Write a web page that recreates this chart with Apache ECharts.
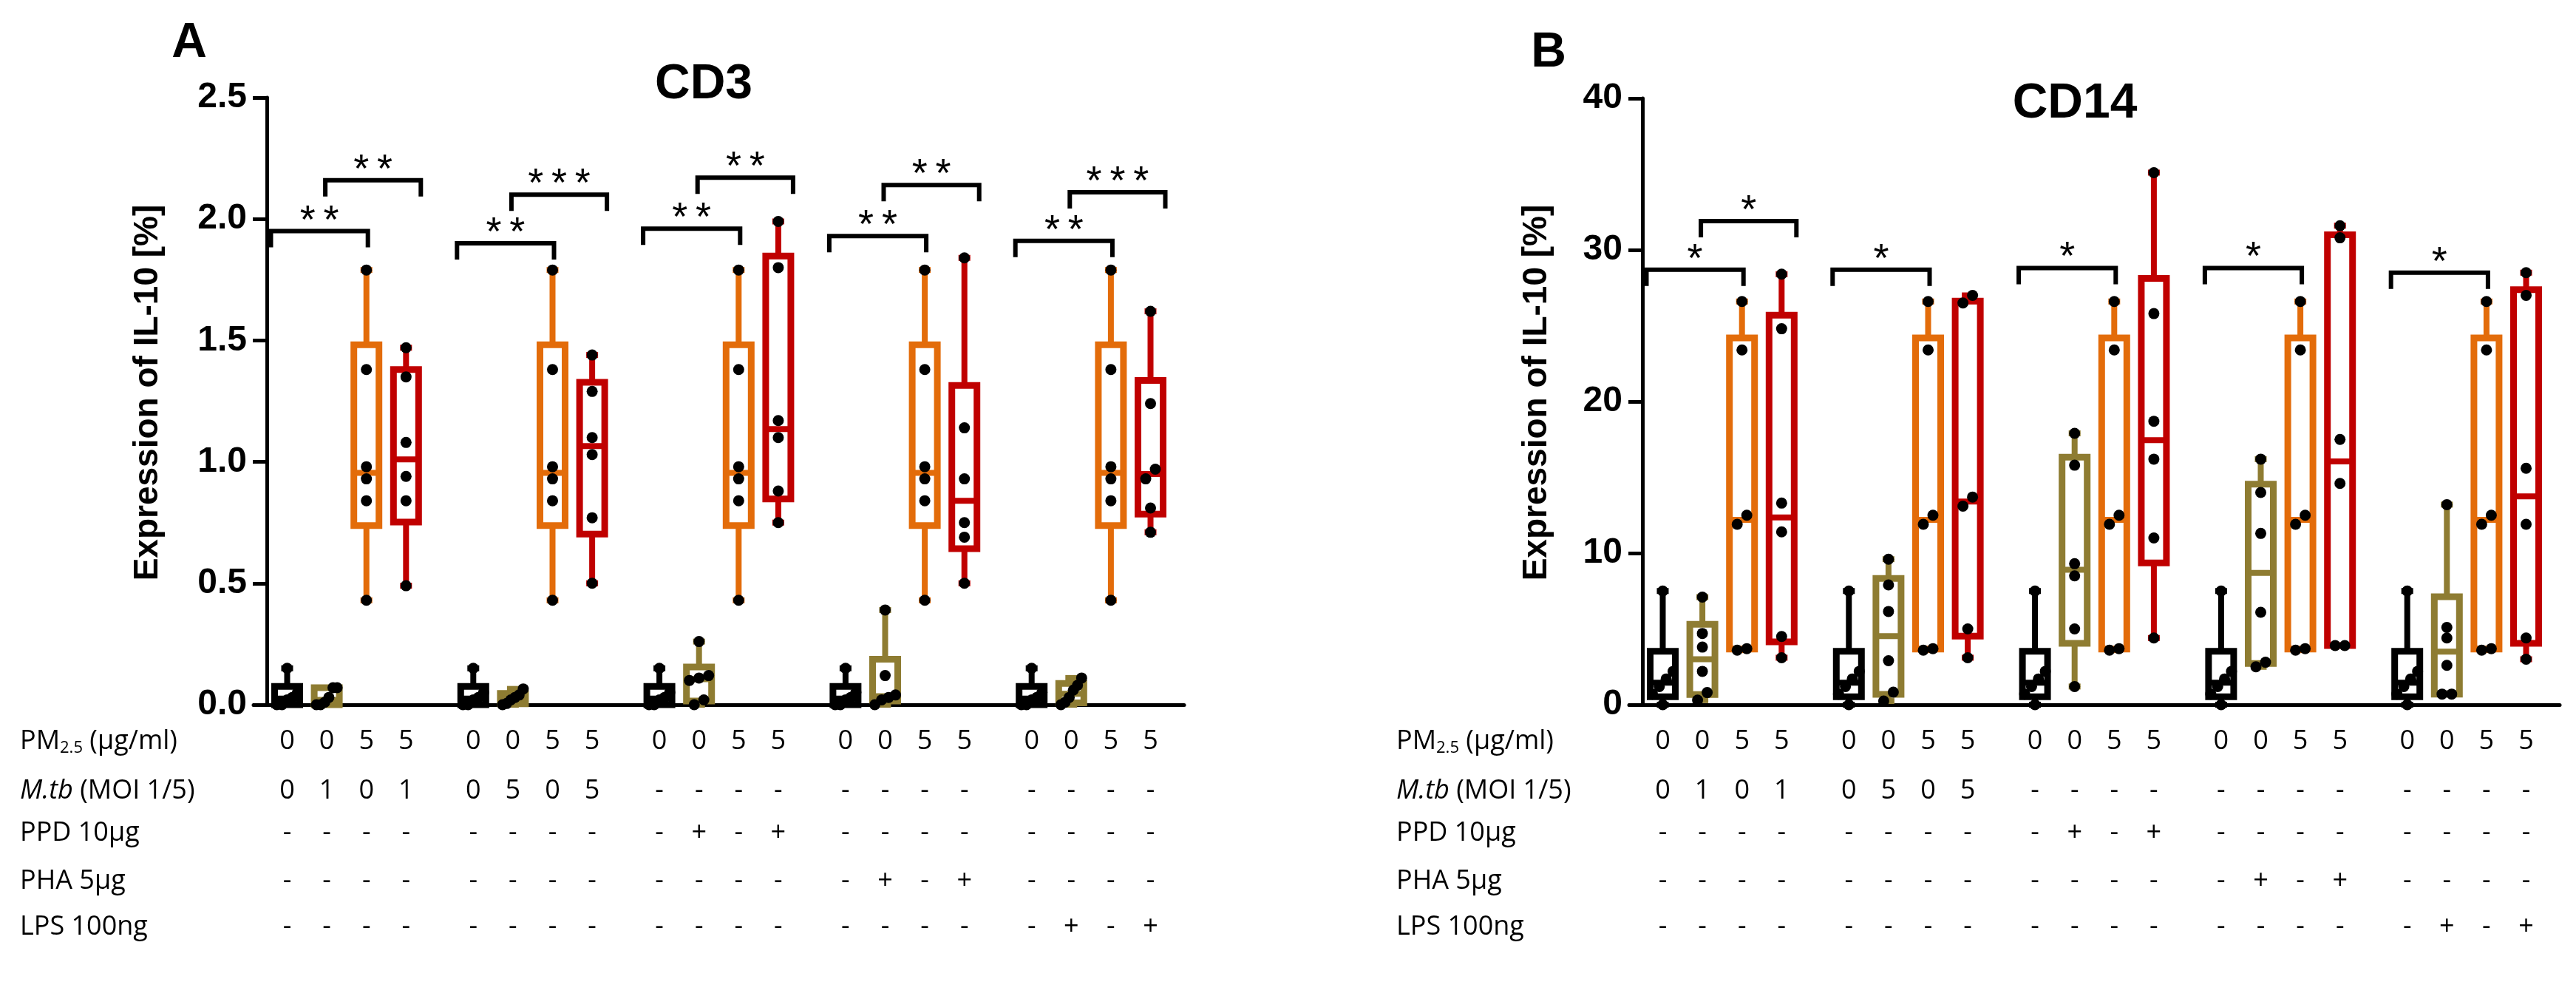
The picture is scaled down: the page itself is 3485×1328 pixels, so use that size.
<!DOCTYPE html>
<html><head><meta charset="utf-8">
<script src="https://cdn.jsdelivr.net/npm/echarts@6/dist/echarts.min.js"></script>
<style>html,body{margin:0;padding:0;background:#fff;}#c{width:3485px;height:1328px;}</style>
</head><body><div id="c"></div>
<script>
// ---------------- data ----------------
const groupNames = ['G1', 'G2', 'G3', 'G4', 'G5'];
// CD3 panel, IL-10 %, six donors per condition
const cd3Control = [0, 0, 0.02, 0.03, 0.05, 0.15];
const cd3PM = [0.43, 0.84, 0.93, 0.98, 1.38, 1.79];
const cd3Stim = [
  [0, 0, 0.01, 0.03, 0.07, 0.07],
  [0, 0.005, 0.02, 0.03, 0.04, 0.065],
  [0, 0.02, 0.10, 0.11, 0.12, 0.26],
  [0, 0.02, 0.03, 0.04, 0.12, 0.39],
  [0, 0.01, 0.03, 0.06, 0.08, 0.11]
];
const cd3StimPM = [
  [0.49, 0.84, 0.94, 1.08, 1.35, 1.47],
  [0.50, 0.77, 1.03, 1.10, 1.29, 1.44],
  [0.75, 0.88, 1.10, 1.17, 1.80, 1.99],
  [0.50, 0.69, 0.75, 0.93, 1.14, 1.84],
  [0.71, 0.81, 0.93, 0.97, 1.24, 1.62]
];
// CD14 panel
const cd14Control = [0, 0.7, 1.2, 1.7, 2.2, 7.5];
const cd14PM = [3.6, 3.7, 11.9, 12.5, 23.4, 26.6];
const cd14Stim = [
  [0.3, 0.8, 2.2, 3.8, 4.7, 7.1],
  [0.24, 0.83, 2.9, 6.15, 7.9, 9.6],
  [1.2, 5.0, 8.5, 9.3, 15.8, 17.9],
  [2.5, 2.8, 6.1, 11.3, 14.0, 16.2],
  [0.7, 0.7, 2.6, 4.4, 5.1, 13.2]
];
const cd14StimPM = [
  [3.1, 4.5, 11.4, 13.3, 24.8, 28.4],
  [3.1, 5.0, 13.1, 13.7, 26.5, 27.0],
  [4.4, 11.0, 16.2, 18.7, 25.8, 35.1],
  [3.9, 3.9, 14.6, 17.5, 30.8, 31.6],
  [3.0, 4.4, 11.9, 15.6, 27.0, 28.5]
];
// significance brackets: [group, fromSlot, toSlot, yValue]
const cd3Brackets = [[0,0,2,1.95],[0,1,3,2.16],[1,0,2,1.90],[1,1,3,2.10],[2,0,2,1.96],[2,1,3,2.17],[3,0,2,1.93],[3,1,3,2.14],[4,0,2,1.91],[4,1,3,2.11]];
const cd3Stars = ['**','**','**','***','**','**','**','**','**','***'];
const cd14Brackets = [[0,0,2,28.7],[0,1,3,31.9],[1,0,2,28.7],[2,0,2,28.8],[3,0,2,28.8],[4,0,2,28.5]];
const cd14Stars = ['*','*','*','*','*','*'];
// treatment table
const pmRow  = [['0','0','5','5'],['0','0','5','5'],['0','0','5','5'],['0','0','5','5'],['0','0','5','5']];
const mtbRow = [['0','1','0','1'],['0','5','0','5'],['-','-','-','-'],['-','-','-','-'],['-','-','-','-']];
const ppdRow = [['-','-','-','-'],['-','-','-','-'],['-','+','-','+'],['-','-','-','-'],['-','-','-','-']];
const phaRow = [['-','-','-','-'],['-','-','-','-'],['-','-','-','-'],['-','+','-','+'],['-','-','-','-']];
const lpsRow = [['-','-','-','-'],['-','-','-','-'],['-','-','-','-'],['-','-','-','-'],['-','+','-','+']];
const tableRows = [pmRow, mtbRow, ppdRow, phaRow, lpsRow];
const rowLabels = ['{b|PM}{s|2.5}{b| (µg/ml)}', '{i|M.tb}{b| (MOI 1/5)}', '{b|PPD 10µg}', '{b|PHA 5µg}', '{b|LPS 100ng}'];
const yTicksCD3 = {min: 0, max: 2.5, interval: 0.5};
const yTicksCD14 = {min: 0, max: 40, interval: 10};

// ---------------- styling / layout ----------------
const colors = ['#000000', '#8e7c32', '#e36c0a', '#c00000'];
const SLOT = 0.2129;          // slot spacing as fraction of band width
const BOX_W = 34;
const ROW_DY = [50, 117, 174, 239, 301];
const ARIAL = '"Liberation Sans", Arial, sans-serif';
const TABLE_FONT = '"Open Sans", "Noto Sans", sans-serif';

function quant(s, p) {
  const n = s.length; let h = (n + 1) * p - 1;
  h = Math.max(0, Math.min(n - 1, h));
  const lo = Math.floor(h), hi = Math.min(lo + 1, n - 1);
  return s[lo] + (h - lo) * (s[hi] - s[lo]);
}
function jitter(vals, thr) {
  const idx = vals.map((v, i) => i).sort((a, b) => vals[a] - vals[b]);
  const off = vals.map(() => 0);
  let cl = [idx[0]];
  const flush = () => {
    if (cl.length > 1) {
      const step = Math.min(13, 28 / (cl.length - 1));
      cl.forEach((k, j) => { off[k] = (j - (cl.length - 1) / 2) * step; });
    }
  };
  for (let j = 1; j < idx.length; j++) {
    if (vals[idx[j]] - vals[idx[j - 1]] < thr) cl.push(idx[j]);
    else { flush(); cl = [idx[j]]; }
  }
  flush();
  return off;
}
function build(control, pm, stim, stimPm, thr) {
  const boxes = [], pts = [], table = [];
  for (let g = 0; g < 5; g++) {
    [control, stim[g], pm, stimPm[g]].forEach((vals, slot) => {
      const s = vals.slice().sort((a, b) => a - b);
      boxes.push([g, slot, s[0], quant(s, 0.25), quant(s, 0.5), quant(s, 0.75), s[s.length - 1]]);
      const off = jitter(vals, thr);
      vals.forEach((v, i) => pts.push([g, slot, v, off[i]]));
      table.push([g, 0, slot]);
    });
  }
  return {boxes, pts, table};
}
const A = build(cd3Control, cd3PM, cd3Stim, cd3StimPM, yTicksCD3.max * 0.017);
const B = build(cd14Control, cd14PM, cd14Stim, cd14StimPM, yTicksCD14.max * 0.017);

function slotX(api, g, slot, v) {
  const bw = api.size([1, 0])[0];
  const c = api.coord([g, v]);
  return [c[0] + (slot - 1.5) * SLOT * bw, c[1]];
}
function renderBox(params, api) {
  const g = api.value(0), slot = api.value(1);
  const col = colors[slot];
  const cx = slotX(api, g, slot, 0)[0];
  const y = v => api.coord([g, v])[1];
  const mn = y(api.value(2)), q1 = y(api.value(3)), md = y(api.value(4)), q3 = y(api.value(5)), mx = y(api.value(6));
  const h = BOX_W / 2;
  const ln = (x1, y1, x2, y2, w) => ({type: 'line', shape: {x1, y1, x2, y2}, style: {stroke: col, lineWidth: w, fill: 'none'}});
  return {type: 'group', children: [
    ln(cx, q3, cx, mx, 8), ln(cx, q1, cx, mn, 8),
    ln(cx - 8, mx, cx + 8, mx, 8), ln(cx - 8, mn, cx + 8, mn, 8),
    {type: 'rect', shape: {x: cx - h, y: q3, width: 2 * h, height: Math.max(q1 - q3, 0.1)}, style: {fill: '#ffffff', stroke: col, lineWidth: 9}},
    ln(cx - h, md, cx + h, md, 8)
  ]};
}
function renderPoint(params, api) {
  const p = slotX(api, api.value(0), api.value(1), api.value(2));
  return {type: 'circle', shape: {cx: p[0] + api.value(3), cy: p[1], r: 7.5}, style: {fill: '#000'}};
}
function makeBracketRenderer(stars) {
  return function (params, api) {
    const g = api.value(0), a = api.value(1), b = api.value(2), yv = api.value(3);
    const pa = slotX(api, g, a, yv), pb = slotX(api, g, b, yv);
    const x1 = pa[0] + (a === 0 ? -22 : -2), x2 = pb[0] + (a === 0 ? 2 : 20), y = pa[1];
    const label = stars[params.dataIndex].split('').join('\u2009');
    return {type: 'group', children: [
      {type: 'polyline', shape: {points: [[x1, y + 22], [x1, y], [x2, y], [x2, y + 22]]}, style: {stroke: '#000', lineWidth: 6, fill: 'none'}},
      {type: 'text', x: (x1 + x2) / 2, y: y - 13, style: {text: label, font: '54px ' + ARIAL, fill: '#000', align: 'center', verticalAlign: 'middle', textAlign: 'center', textVerticalAlign: 'middle'}}
    ]};
  };
}
function renderTable(params, api) {
  const g = api.value(0), slot = api.value(2);
  const p = slotX(api, g, slot, 0);
  return {type: 'group', children: tableRows.map((row, r) => ({
    type: 'text', x: p[0], y: p[1] + ROW_DY[r],
    style: {text: row[g][slot], font: '36px ' + TABLE_FONT, fill: '#000', align: 'center', verticalAlign: 'middle', textAlign: 'center', textVerticalAlign: 'middle'}
  }))};
}

function yAxisCfg(gi, ticks, fmt) {
  return {gridIndex: gi, type: 'value', min: ticks.min, max: ticks.max, interval: ticks.interval, offset: -18,
    axisLine: {show: true, lineStyle: {color: '#000', width: 5}},
    axisTick: {show: true, length: 19, lineStyle: {color: '#000', width: 5}},
    axisLabel: {formatter: fmt, fontSize: 48, fontWeight: 'bold', fontFamily: ARIAL, color: '#000', margin: 27},
    splitLine: {show: false}};
}
function xAxisCfg(gi) {
  return {gridIndex: gi, type: 'category', data: groupNames, boundaryGap: true,
    axisLine: {show: true, onZero: false, lineStyle: {color: '#000', width: 5}},
    axisTick: {show: false}, axisLabel: {show: false}, splitLine: {show: false}};
}
function panelSeries(idx, data, brackets, stars) {
  return [
    {type: 'custom', xAxisIndex: idx, yAxisIndex: idx, z: 3, renderItem: renderBox, data: data.boxes, encode: {x: 0, y: [2, 3, 4, 5, 6]}, clip: false, silent: true},
    {type: 'custom', xAxisIndex: idx, yAxisIndex: idx, z: 4, renderItem: renderPoint, data: data.pts, encode: {x: 0, y: 2}, clip: false, silent: true},
    {type: 'custom', xAxisIndex: idx, yAxisIndex: idx, z: 4, renderItem: makeBracketRenderer(stars), data: brackets, encode: {x: 0, y: 3}, clip: false, silent: true},
    {type: 'custom', xAxisIndex: idx, yAxisIndex: idx, z: 4, renderItem: renderTable, data: data.table, encode: {x: 0, y: 1}, clip: false, silent: true}
  ];
}
function txt(x, y, text, font, extra) {
  return Object.assign({type: 'text', x, y, silent: true, style: {text, font, fill: '#000', align: 'center', verticalAlign: 'middle', textAlign: 'center', textVerticalAlign: 'middle'}}, extra || {});
}
const rich = {
  b: {fontSize: 36, lineHeight: 40, fontFamily: TABLE_FONT, color: '#000'},
  i: {fontSize: 36, lineHeight: 40, fontFamily: TABLE_FONT, fontStyle: 'italic', color: '#000'},
  s: {fontSize: 22, lineHeight: 22, fontFamily: TABLE_FONT, verticalAlign: 'bottom', color: '#000'}
};
const graphics = [
  txt(256, 59, 'A', 'bold 66px ' + ARIAL),
  txt(2095, 72, 'B', 'bold 66px ' + ARIAL),
  txt(952, 115, 'CD3', 'bold 66px ' + ARIAL),
  txt(2807, 141, 'CD14', 'bold 66px ' + ARIAL),
  txt(200, 531, 'Expression of IL-10 [%]', 'bold 46px ' + ARIAL, {rotation: Math.PI / 2}),
  txt(2079, 531, 'Expression of IL-10 [%]', 'bold 46px ' + ARIAL, {rotation: Math.PI / 2})
];
[27, 1889].forEach(x0 => rowLabels.forEach((t, r) => {
  graphics.push({type: 'text', x: x0, y: 953 + ROW_DY[r], silent: true,
    style: {text: t, rich, font: '36px ' + TABLE_FONT, fill: '#000', align: 'left', verticalAlign: 'middle', textAlign: 'left', textVerticalAlign: 'middle'}});
}));

const chart = echarts.init(document.getElementById('c'), null, {renderer: 'canvas'});
chart.setOption({
  animation: false,
  backgroundColor: '#ffffff',
  grid: [
    {left: 343, top: 132, width: 1259, height: 821, containLabel: false, outerBoundsMode: 'none'},
    {left: 2204, top: 133, width: 1259, height: 820, containLabel: false, outerBoundsMode: 'none'}
  ],
  xAxis: [xAxisCfg(0), xAxisCfg(1)],
  yAxis: [yAxisCfg(0, yTicksCD3, v => v.toFixed(1)), yAxisCfg(1, yTicksCD14, v => String(v))],
  series: [].concat(panelSeries(0, A, cd3Brackets, cd3Stars), panelSeries(1, B, cd14Brackets, cd14Stars)),
  graphic: graphics
});
</script></body></html>
